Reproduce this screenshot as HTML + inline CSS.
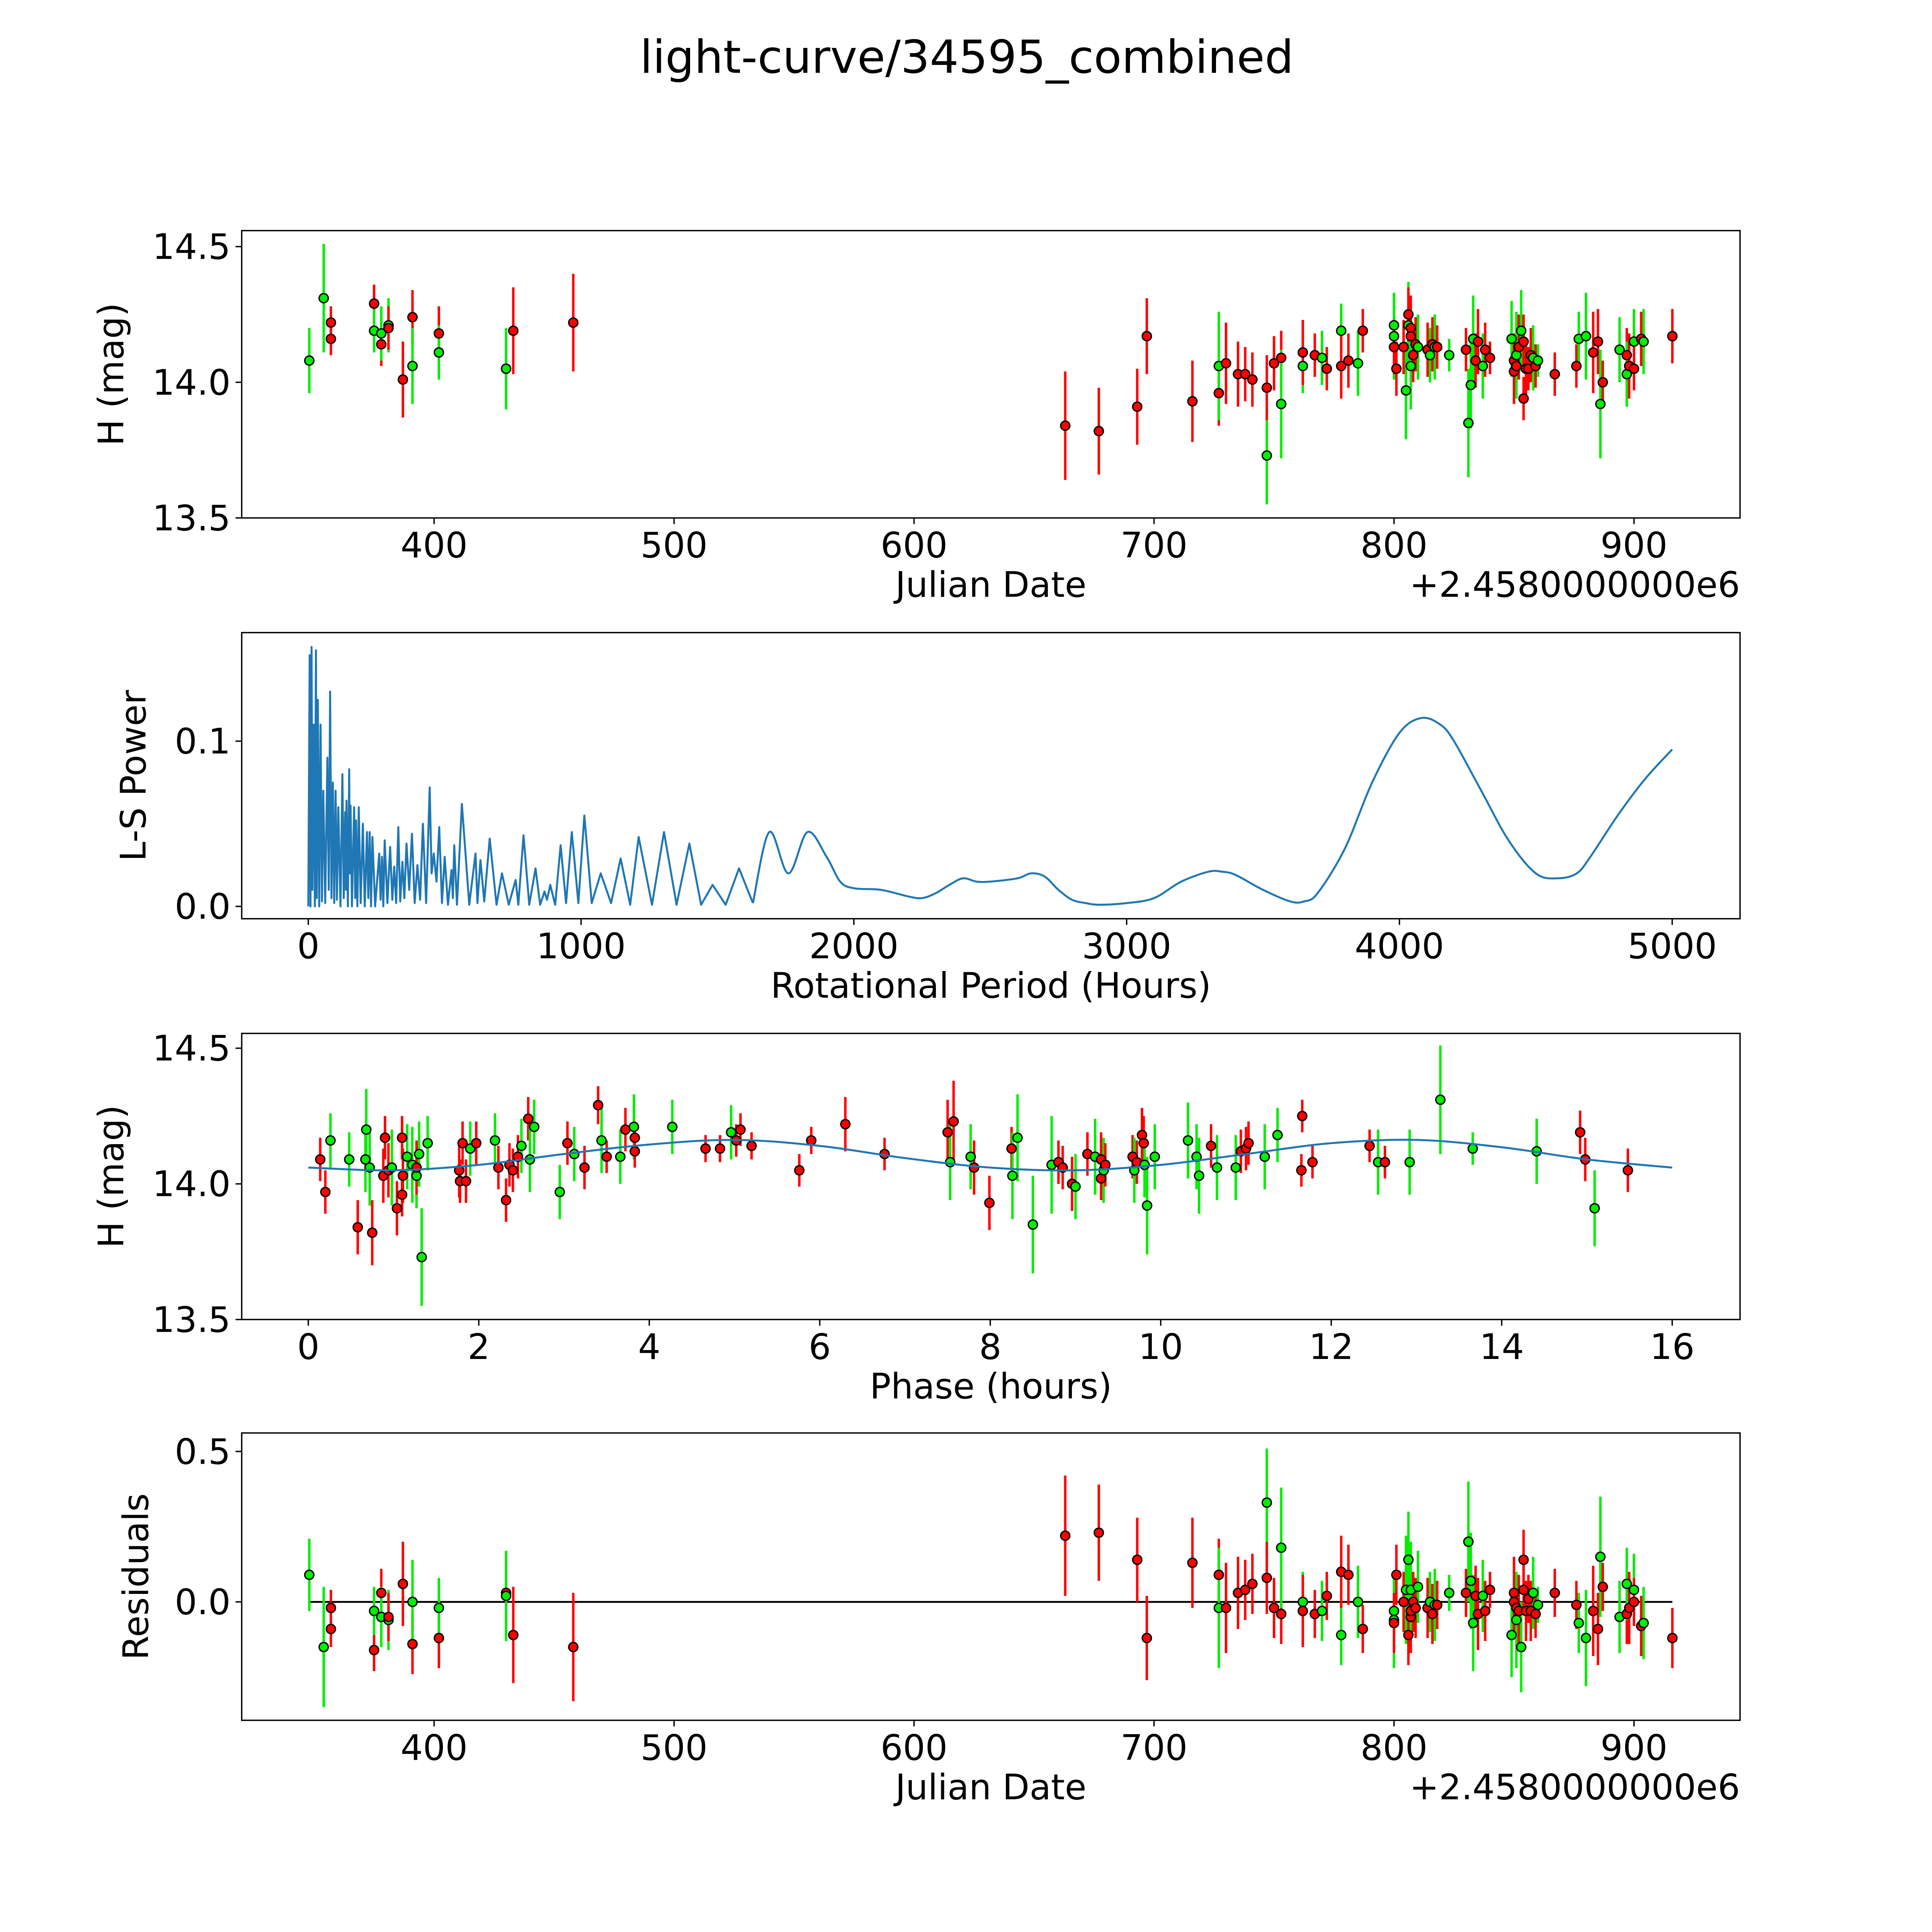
<!DOCTYPE html>
<html><head><meta charset="utf-8">
<style>
html,body{margin:0;padding:0;background:#fff;width:5400px;height:5400px;overflow:hidden;}
svg{display:block;position:absolute;left:0;top:0;font-family:"DejaVu Sans","Liberation Sans",sans-serif;}
</style></head>
<body>
<svg id="fig" width="5400" height="5400" viewBox="0 0 1692 1692" xmlns="http://www.w3.org/2000/svg">
<rect width="1692" height="1692" fill="#fff"/>
<text x="784" y="59" font-size="37" text-anchor="middle">light-curve/34595_combined</text>
</svg>
<script>
// ---- Panel 1: observations ----
const obsDates = [348,354,357,357,375,375,378,378,381,381,387,391,391,402,402,430,430,433,458,663,677,693,697,716,727,727,730,735,738,741,747,747,750,753,753,762,762,767,770,772,778,778,781,785,787,800,800,800,801,804,806,806,807,807,805,807,808,809,810,814,815,816,817,818,823,830,831,832,833,834,835,837,838,840,849,850,850,851,851,852,853,854,854,855,856,857,858,859,860,867,876,877,880,883,885,886,887,894,897,897,898,900,900,903,904,916];
const obsMags = [14.08,14.31,14.22,14.16,14.29,14.19,14.14,14.18,14.21,14.2,14.01,14.24,14.06,14.18,14.11,14.05,14.05,14.19,14.22,13.84,13.82,13.91,14.17,13.93,13.96,14.06,14.07,14.03,14.03,14.01,13.73,13.98,14.07,14.09,13.92,14.06,14.11,14.1,14.09,14.05,14.19,14.06,14.08,14.07,14.19,14.21,14.17,14.13,14.05,14.13,14.21,14.25,14.2,14.17,13.97,14.06,14.1,14.14,14.13,14.12,14.1,14.14,14.13,14.13,14.1,14.12,13.85,13.99,14.16,14.08,14.15,14.06,14.12,14.09,14.16,14.08,14.04,14.06,14.1,14.13,14.19,14.15,13.94,14.05,14.05,14.1,14.09,14.06,14.08,14.03,14.06,14.16,14.17,14.11,14.15,13.92,14.0,14.12,14.1,14.03,14.06,14.15,14.05,14.16,14.15,14.17];
const obsErrs = [0.12,0.2,0.06,0.06,0.07,0.08,0.08,0.1,0.1,0.08,0.14,0.1,0.14,0.1,0.1,0.12,0.15,0.16,0.18,0.2,0.16,0.14,0.14,0.15,0.12,0.2,0.15,0.12,0.1,0.1,0.18,0.12,0.1,0.1,0.2,0.1,0.12,0.08,0.1,0.08,0.1,0.12,0.1,0.12,0.08,0.12,0.16,0.1,0.1,0.1,0.16,0.1,0.12,0.08,0.18,0.16,0.1,0.1,0.12,0.1,0.1,0.1,0.12,0.08,0.06,0.08,0.2,0.16,0.16,0.1,0.12,0.12,0.1,0.06,0.14,0.1,0.12,0.08,0.16,0.12,0.15,0.1,0.08,0.1,0.08,0.1,0.12,0.08,0.06,0.08,0.08,0.1,0.16,0.15,0.12,0.2,0.08,0.12,0.1,0.12,0.12,0.12,0.08,0.1,0.12,0.1];
const obsColors = ['g','g','r','r','r','g','r','g','g','r','r','r','g','r','g','r','g','r','r','r','r','r','r','r','r','g','r','r','r','r','g','r','r','r','g','g','r','r','g','r','g','r','r','g','r','g','g','r','r','r','g','r','r','r','g','g','r','r','g','r','g','r','g','r','g','r','g','g','g','r','r','g','r','r','g','r','r','r','g','r','g','r','r','r','r','r','g','r','g','r','r','g','g','r','r','g','r','g','r','g','r','g','r','r','g','r'];
const resVals = [0.09,-0.15,-0.09,-0.02,-0.16,-0.03,0.03,-0.05,-0.06,-0.05,0.06,-0.14,0.0,-0.12,-0.02,0.03,0.02,-0.11,-0.15,0.22,0.23,0.14,-0.12,0.13,0.09,-0.02,-0.02,0.03,0.04,0.06,0.33,0.08,-0.02,-0.04,0.18,0.0,-0.03,-0.04,-0.03,0.02,-0.11,0.1,0.09,0.0,-0.09,-0.03,-0.06,-0.07,0.09,0.0,0.14,-0.11,-0.05,-0.03,0.04,0.04,0.0,-0.02,0.05,-0.02,0.0,-0.04,-0.01,-0.01,0.03,0.03,0.2,0.07,-0.07,0.02,-0.04,0.02,-0.03,0.04,-0.11,0.0,0.03,-0.02,-0.06,-0.03,-0.15,0.14,0.04,-0.03,0.01,-0.03,0.03,-0.04,-0.01,0.03,-0.01,-0.07,-0.12,-0.03,-0.09,0.15,0.05,-0.05,-0.04,0.06,-0.02,0.04,0.0,-0.08,-0.07,-0.12];

// ---- Panel 2: periodogram ----
const lsPeriods = [0,5,8,12,15,20,24,28,31,35,40,45,50,55,62,70,75,80,85,90,95,100,105,110,118,125,130,135,138,140,145,150,152,155,160,168,172,175,180,185,192,200,207,215,220,225,230,235,245,260,265,270,275,280,290,300,308,315,322,330,337,345,352,360,370,380,390,400,410,420,432,445,452,460,470,480,490,500,512,525,530,535,545,563,590,613,620,631,645,665,690,710,735,760,770,789,810,833,850,866,875,887,905,925,945,966,990,1012,1039,1072,1110,1145,1180,1211,1260,1304,1350,1397,1440,1482,1530,1579,1630,1690,1760,1830,1900,1950,2000,2100,2200,2250,2300,2350,2400,2450,2500,2600,2650,2700,2750,2800,2850,2900,3000,3100,3200,3300,3350,3400,3500,3600,3650,3700,3800,3900,4000,4080,4150,4200,4300,4400,4500,4580,4650,4700,4800,4900,5000];
const lsPowers = [0,0.152,0,0.157,0.01,0.11,0,0.155,0.005,0.125,0,0.11,0.003,0.07,0.002,0.09,0.01,0.13,0.005,0.075,0.002,0.07,0.004,0.06,0,0.08,0.005,0.057,0.01,0.064,0,0.083,0.02,0.061,0,0.06,0.005,0.052,0,0.06,0.002,0.05,0,0.045,0.005,0.045,0,0.042,0,0.032,0.004,0.03,0,0.04,0.002,0.036,0.004,0.024,0.002,0.048,0.003,0.027,0.005,0.038,0.01,0.044,0.002,0.025,0.004,0.05,0.002,0.072,0.02,0.032,0.015,0.048,0.002,0.03,0.001,0.022,0.005,0.037,0.001,0.062,0.001,0.032,0.002,0.028,0.003,0.041,0.001,0.02,0.001,0.016,0.001,0.043,0.001,0.023,0.001,0.009,0.004,0.013,0.001,0.037,0.002,0.045,0.002,0.055,0.002,0.02,0.002,0.029,0.001,0.042,0.001,0.045,0.001,0.038,0.001,0.013,0.001,0.023,0.002,0.045,0.02,0.045,0.03,0.015,0.011,0.01,0.006,0.005,0.008,0.013,0.017,0.015,0.015,0.017,0.02,0.018,0.01,0.004,0.002,0.001,0.002,0.005,0.015,0.021,0.021,0.019,0.01,0.003,0.003,0.008,0.035,0.075,0.105,0.114,0.11,0.1,0.07,0.04,0.02,0.017,0.02,0.03,0.055,0.077,0.095];

// ---- Panel 3: phase folded ----
const phaseVals = [0.14,0.2,0.26,0.48,0.58,0.67,0.68,0.72,0.75,0.88,0.9,0.94,0.98,1.04,1.1,1.1,1.11,1.16,1.22,1.27,1.27,1.3,1.33,1.4,1.77,1.78,1.81,1.85,1.9,1.97,2.19,2.23,2.32,2.36,2.4,2.46,2.5,2.58,2.6,2.65,2.95,3.04,3.12,3.24,3.4,3.44,3.5,3.66,3.72,3.82,3.83,3.83,4.27,4.66,4.83,4.96,5.02,5.07,5.2,5.76,5.9,6.3,6.76,7.5,7.53,7.57,7.77,7.81,7.99,8.25,8.26,8.32,8.5,8.72,8.8,8.85,8.96,9.0,9.14,9.23,9.3,9.3,9.33,9.35,9.67,9.69,9.72,9.78,9.8,9.81,9.84,9.93,10.32,10.42,10.45,10.59,10.66,10.88,10.94,11.0,11.03,11.22,11.37,11.65,11.66,11.78,12.45,12.55,12.63,12.92,13.28,13.66,14.41,14.92,14.98,15.09,15.48];
const phaseMags = [14.09,13.97,14.16,14.09,13.84,14.09,14.2,14.06,13.82,14.03,14.17,14.05,14.06,13.91,13.96,14.17,14.03,14.1,14.07,14.03,14.06,14.11,13.73,14.15,14.05,14.01,14.15,14.01,14.13,14.15,14.16,14.06,13.94,14.07,14.05,14.1,14.14,14.24,14.09,14.21,13.97,14.15,14.11,14.06,14.29,14.16,14.1,14.1,14.2,14.21,14.17,14.12,14.21,14.13,14.13,14.19,14.16,14.2,14.14,14.05,14.16,14.22,14.11,14.19,14.08,14.23,14.1,14.06,13.93,14.13,14.03,14.17,13.85,14.07,14.08,14.06,14.0,13.99,14.11,14.1,14.09,14.02,14.05,14.07,14.1,14.05,14.08,14.18,14.15,14.07,13.92,14.1,14.16,14.1,14.03,14.14,14.06,14.06,14.12,14.13,14.15,14.1,14.18,14.05,14.25,14.08,14.14,14.08,14.08,14.08,14.31,14.13,14.12,14.19,14.09,13.91,14.05];
const phaseColors = ['r','r','g','g','r','g','g','g','r','r','r','r','g','r','r','r','r','g','g','g','r','g','g','g','r','r','r','r','g','r','g','r','r','r','r','r','g','r','g','g','g','r','g','r','r','g','r','g','r','g','r','r','g','r','r','g','r','r','r','r','r','r','r','r','g','r','g','r','r','r','g','g','g','g','r','r','r','g','r','g','r','r','g','r','r','g','r','r','r','g','g','g','g','g','g','r','g','g','r','r','r','g','g','r','r','r','r','g','r','g','g','g','g','r','r','g','r'];
const phaseErrs = [0.08,0.08,0.1,0.1,0.1,0.12,0.15,0.14,0.12,0.1,0.08,0.1,0.14,0.1,0.08,0.08,0.1,0.12,0.14,0.12,0.1,0.12,0.18,0.1,0.1,0.08,0.08,0.08,0.1,0.08,0.1,0.08,0.08,0.08,0.08,0.08,0.1,0.08,0.12,0.1,0.1,0.08,0.1,0.08,0.07,0.12,0.06,0.1,0.08,0.12,0.06,0.06,0.1,0.05,0.05,0.1,0.06,0.06,0.05,0.06,0.05,0.1,0.06,0.12,0.14,0.15,0.12,0.1,0.1,0.08,0.16,0.16,0.18,0.18,0.08,0.08,0.1,0.12,0.08,0.14,0.1,0.08,0.12,0.08,0.08,0.12,0.08,0.1,0.1,0.12,0.18,0.12,0.14,0.12,0.14,0.08,0.12,0.12,0.08,0.08,0.08,0.12,0.1,0.06,0.06,0.06,0.06,0.12,0.06,0.12,0.2,0.06,0.12,0.08,0.08,0.14,0.08];
const modelPhase = [0,1,2,3,4,5,6,7,8,9,10,11,12,13,14,15,16];
const modelMag = [14.06,14.05,14.07,14.11,14.145,14.162,14.14,14.095,14.06,14.05,14.07,14.11,14.15,14.162,14.135,14.09,14.06];

const jdTicks = [400,500,600,700,800,900];
const magTicks = [13.5,14.0,14.5];
const lsXTicks = [0,1000,2000,3000,4000,5000];
const lsYTicks = [0.0,0.1];
const phaseTicks = [0,2,4,6,8,10,12,14,16];
const resTicks = [0.0,0.5];

const svg = document.getElementById('fig');
const NS = 'http://www.w3.org/2000/svg';
const FS = 28.5;
function mk(tag, attrs, parent){const e=document.createElementNS(NS,tag);for(const k in attrs)e.setAttribute(k,attrs[k]);(parent||svg).appendChild(e);return e;}
function lin(d0,d1,p0,p1){return v=>p0+(v-d0)*(p1-p0)/(d1-d0);}
function fmt(v,dec){return v.toFixed(dec);}
function spline(xs,ys){let d='M'+xs[0]+','+ys[0];const n=xs.length;
  for(let i=0;i<n-1;i++){const a=i>0?i-1:i,b=i+2<n?i+2:i+1;
    d+=` C${xs[i]+(xs[i+1]-xs[a])/6},${ys[i]+(ys[i+1]-ys[a])/6} ${xs[i+1]-(xs[b]-xs[i])/6},${ys[i+1]-(ys[b]-ys[i])/6} ${xs[i+1]},${ys[i+1]}`;}
  return d;}

function axes(name, box, sx, sy, xt, xdec, yt, ydec, xlabel, ylabel, ylabX, offset){
  const g=mk('g',{});
  
  
  const fr=mk('rect',{x:box[0],y:box[1],width:box[2]-box[0],height:box[3]-box[1],fill:'none',stroke:'#000','stroke-width':1.1},g);
  
  
  xt.forEach(v=>{const x=sx(v);
    mk('line',{x1:x,x2:x,y1:box[3],y2:box[3]+5,stroke:'#000','stroke-width':1.1},g);
    const t=mk('text',{x:x,y:box[3]+32,'font-size':FS,'text-anchor':'middle'},g);t.textContent=fmt(v,xdec);
    
    });
  yt.forEach(v=>{const y=sy(v);
    mk('line',{x1:box[0]-5,x2:box[0],y1:y,y2:y,stroke:'#000','stroke-width':1.1},g);
    const t=mk('text',{x:box[0]-9,y:y+10,'font-size':FS,'text-anchor':'end'},g);t.textContent=fmt(v,ydec);
    
    });
  const xl=mk('text',{x:(box[0]+box[2])/2,y:box[3]+64,'font-size':FS,'text-anchor':'middle'},g);xl.textContent=xlabel;
  
  
  const cy=(box[1]+box[3])/2;
  const yl=mk('text',{x:ylabX,y:cy,'font-size':FS,'text-anchor':'middle',transform:`rotate(-90 ${ylabX} ${cy})`},g);yl.textContent=ylabel;
  
  
  if(offset){const o=mk('text',{x:box[2],y:box[3]+64,'font-size':FS,'text-anchor':'end'},g);o.textContent='+2.4580000000e6';
    
    }
}
function points(name, xs, ys, es, cs, sx, sy){
  const g=mk('g',{});
  
  
  xs.forEach((x,i)=>{const col=cs[i]==='g'?'#00ee00':'#ff0000';
    const l=mk('line',{x1:sx(x),x2:sx(x),y1:sy(ys[i]-es[i]),y2:sy(ys[i]+es[i]),stroke:col,'stroke-width':2},g);
    
    });
  xs.forEach((x,i)=>{const col=cs[i]==='g'?'#00ee00':'#ff0000';
    const c=mk('circle',{cx:sx(x),cy:sy(ys[i]),r:3.7,fill:col,stroke:'#000','stroke-width':1.1},g);
    
    });
}

// Panel 1
const b1=[196,187,1411,420];
const sx1=lin(400,900,352,1325), sy1=lin(14.0,14.5,310,200);
axes('light-curve',b1,sx1,sy1,jdTicks,0,magTicks,1,'Julian Date','H (mag)',100,true);
points('observations',obsDates,obsMags,obsErrs,obsColors,sx1,sy1);

// Panel 2
const b2=[196,513,1411,745];
const sx2=lin(0,5000,250,1356), sy2=lin(0,0.1,735,601);
axes('periodogram',b2,sx2,sy2,lsXTicks,0,lsYTicks,1,'Rotational Period (Hours)','L-S Power',118,false);
const spikeIdx=lsPeriods.filter(p=>p<=1630).length;
const spikePts=lsPeriods.slice(0,spikeIdx).map((p,i)=>sx2(p)+','+sy2(lsPowers[i])).join(' ');
const lsSpikes=mk('polyline',{points:spikePts,fill:'none',stroke:'#1f77b4','stroke-width':1.6,'stroke-linejoin':'round'});


const tx=lsPeriods.slice(spikeIdx-1).map(p=>sx2(p)), ty=lsPowers.slice(spikeIdx-1).map(v=>sy2(v));
const lsSmooth=mk('path',{d:spline(tx,ty),fill:'none',stroke:'#1f77b4','stroke-width':1.6});



// Panel 3
const b3=[196,838,1411,1070];
const sx3=lin(0,16,250,1356), sy3=lin(14.0,14.5,960,850);
axes('phase',b3,sx3,sy3,phaseTicks,0,magTicks,1,'Phase (hours)','H (mag)',100,false);
points('phase-observations',phaseVals,phaseMags,phaseErrs,phaseColors,sx3,sy3);
const mp=mk('path',{d:spline(modelPhase.map(sx3),modelMag.map(sy3)),fill:'none',stroke:'#1f77b4','stroke-width':1.6});



// Panel 4
const b4=[196,1162,1411,1395];
const sx4=sx1, sy4=lin(0,0.5,1299,1177);
axes('residuals',b4,sx4,sy4,jdTicks,0,resTicks,1,'Julian Date','Residuals',120,true);
const zl=mk('line',{x1:sx4(348),x2:sx4(916),y1:sy4(0),y2:sy4(0),stroke:'#000','stroke-width':1.5});


points('residual-points',obsDates,resVals,obsErrs,obsColors,sx4,sy4);
</script>
</body></html>
